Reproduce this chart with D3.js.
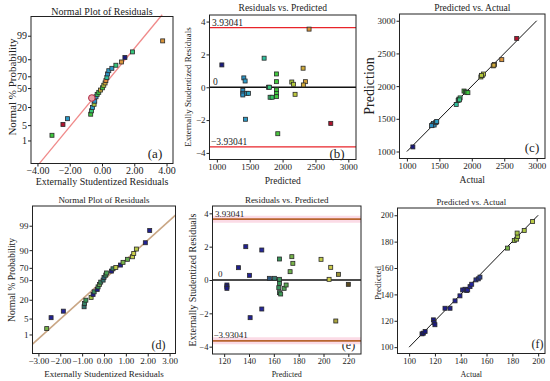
<!DOCTYPE html>
<html>
<head>
<meta charset="utf-8">
<script src="https://cdn.jsdelivr.net/npm/d3@7"></script>
<style>
body { margin: 0; background: #fff; }
svg text { font-family: "Liberation Serif", "Times New Roman", Times, serif; fill: #222; }
</style>
</head>
<body>
<script>
var width = 550, height = 381;

// ---- data ----
// (a) normal plot: [residual, normal % probability, response]
var aPoints = [
  [-3.10, 1.8, 1900], [-2.42, 5.3, 2730], [-2.14, 8.7, 1430], [-0.70, 12.3, 1900],
  [-0.65, 15.6, 1820], [-0.59, 19.4, 1450], [-0.49, 23.6, 2150], [-0.45, 28, 1400],
  [-0.37, 35, 1420], [-0.30, 39, 1850], [-0.20, 42.5, 1900], [-0.09, 46.5, 2300],
  [0.03, 50.5, 1900], [0.11, 55, 2180], [0.19, 59, 2320], [0.24, 63, 2450],
  [0.30, 68, 1720], [0.34, 73.5, 1400], [0.42, 78, 1440], [0.61, 81, 1420],
  [0.86, 84.5, 1800], [1.21, 87.7, 2400], [1.42, 91.3, 1076], [1.89, 94.6, 1800],
  [3.76, 98.2, 2403]
];
var aHighlight = [-0.63, 33];
var aLine = [[-3.9, 0.0376], [3.73, 99.944]];

// (b) residuals vs predicted: [predicted, residual]
var bPoints = [
  [1076, 1.36], [1719, 1.77], [2403, 3.54], [2312, 1.16], [1906, 0.81], [1906, 0.34],
  [1410, 0.57], [1430, 0.38], [2140, 0.32], [2165, 0.18], [2347, 0.34], [2316, 0.14],
  [1785, 0.0], [1800, 0.0], [1395, -0.2], [1395, -0.37], [1395, -0.47], [1456, -0.37],
  [1480, -0.37], [1906, -0.16], [1906, -0.37], [1906, -0.57], [1810, -0.61], [1840, -0.61],
  [2190, -0.43], [1435, -1.95], [1927, -2.83], [2733, -2.2]
];
var bLimitLine = 3.63;
var limitText = "3.93041";

// (c) predicted vs actual: [actual, predicted]
var cPoints = [
  [1092, 1070], [1390, 1400], [1400, 1415], [1410, 1430], [1420, 1405], [1440, 1440],
  [1455, 1450], [1380, 1395], [1460, 1460], [1760, 1720], [1790, 1780], [1800, 1800],
  [1820, 1820], [1810, 1790], [1880, 1925], [1900, 1910], [1920, 1905], [1940, 1900],
  [2140, 2140], [2160, 2160], [2180, 2185], [2150, 2165], [2330, 2310], [2350, 2330],
  [2340, 2320], [2462, 2405], [2692, 2730]
];

// (d) normal plot: [residual, normal % probability, response]
var dPoints = [
  [-2.62, 1.9, 175], [-2.42, 5.4, 138], [-1.86, 9.2, 150], [-0.91, 12.7, 160],
  [-0.89, 15.9, 162], [-0.83, 19.5, 165], [-0.59, 23, 185], [-0.50, 27, 130],
  [-0.45, 30.8, 163], [-0.31, 34.5, 122], [-0.27, 38.6, 165], [-0.21, 42.7, 172],
  [-0.15, 46.6, 163], [-0.04, 50, 160], [0.0, 54.5, 158], [0.08, 58.5, 164],
  [0.11, 62, 168], [0.34, 65, 130], [0.41, 68.6, 162], [0.54, 70.6, 195],
  [0.75, 74, 132], [0.87, 77.6, 175], [1.07, 81.3, 172], [1.30, 84.1, 198],
  [1.36, 87.3, 202], [1.48, 90.8, 194], [1.89, 94.5, 140], [2.09, 98.3, 137]
];
var dLine = [[-3.27, 0.307], [3.27, 99.728]];

// (e) residuals vs predicted: [predicted, residual]
var ePoints = [
  [137.4, 2.0], [150.3, 1.8], [131.5, 0.74], [140.4, 0.28], [122.2, -0.3], [122.2, -0.4],
  [122.2, -0.5], [156.4, 0.1], [160.5, 0.1], [164.5, 1.26], [164.5, 0.04], [164.5, -0.2],
  [164, -0.46], [164.5, -0.76], [165.5, -0.84], [168.3, -0.5], [169.9, -0.3], [174.5, 1.4],
  [175.3, 1.0], [173.1, 0.5], [198, 1.24], [205.8, 0.76], [212, 0.34], [204.5, 0.04],
  [220, -0.26], [209.9, -2.46], [150.3, -1.74], [140.9, -2.26]
];
var eLimitLine = 3.65;

// (f) predicted vs actual: [actual, predicted]
var fPoints = [
  [110, 110.1], [111, 110.6], [112.4, 111.9], [118.8, 120.7], [119.4, 118.7], [120, 117],
  [127.8, 129.5], [131.7, 129.5], [135.6, 135.1], [139.4, 138.9], [141.5, 143.4], [143.3, 143.9],
  [144.6, 142.9], [145.4, 143.4], [147.2, 145.9], [148.5, 147.7], [151.8, 151], [153.6, 151.8],
  [154.9, 153.1], [176.3, 175.1], [181.5, 180.9], [183.3, 181.9], [184.1, 183.9], [183.7, 186.5],
  [189.2, 188.5], [195.7, 195.3]
];

var probTicks = [1, 5, 20, 50, 70, 90, 99];
var residTicksA = [-4, -2, 0, 2, 4];
var residTicksD = [-3, -2, -1, 0, 1, 2, 3];
var residTicksY = [-4, -2, 0, 2, 4];
var bigTicks = [1000, 1500, 2000, 2500, 3000];
var eTicks = [120, 140, 160, 180, 200, 220];
var fTicks = [100, 120, 140, 160, 180, 200];

// colour by response value
var col1 = d3.scaleLinear()
  .domain([1070, 1420, 1750, 1900, 2200, 2450, 2730])
  .range(["#1a1a7e", "#2c98c8", "#2fc49a", "#3ec83e", "#c2c83c", "#e0883a", "#b0142e"]);
var col2 = d3.scaleLinear()
  .domain([110, 150, 165, 180, 205, 220])
  .range(["#16167a", "#26269e", "#3a9a58", "#96c040", "#d4d24c", "#5a4a20"]);

// inverse normal CDF (Acklam)
function probit(p) {
  var a = [-3.969683028665376e+01, 2.209460984245205e+02, -2.759285104469687e+02, 1.383577518672690e+02, -3.066479806614716e+01, 2.506628277459239e+00];
  var b = [-5.447609879822406e+01, 1.615858368580409e+02, -1.556989798598866e+02, 6.680131188771972e+01, -1.328068155288572e+01];
  var c = [-7.784894002430293e-03, -3.223964580411365e-01, -2.400758277161838e+00, -2.549732539343734e+00, 4.374664141464968e+00, 2.938163982698783e+00];
  var d = [7.784695709041462e-03, 3.224671290700398e-01, 2.445134137142996e+00, 3.754408661907416e+00];
  var pl = 0.02425, q, r;
  if (p < pl) {
    q = Math.sqrt(-2 * Math.log(p));
    return (((((c[0]*q+c[1])*q+c[2])*q+c[3])*q+c[4])*q+c[5]) / ((((d[0]*q+d[1])*q+d[2])*q+d[3])*q+1);
  }
  if (p > 1 - pl) {
    q = Math.sqrt(-2 * Math.log(1 - p));
    return -(((((c[0]*q+c[1])*q+c[2])*q+c[3])*q+c[4])*q+c[5]) / ((((d[0]*q+d[1])*q+d[2])*q+d[3])*q+1);
  }
  q = p - 0.5; r = q * q;
  return (((((a[0]*r+a[1])*r+a[2])*r+a[3])*r+a[4])*r+a[5])*q / (((((b[0]*r+b[1])*r+b[2])*r+b[3])*r+b[4])*r+1);
}

var svg = d3.select("body").append("svg")
  .attr("width", width)
  .attr("height", height)
  .attr("font-family", "'Liberation Serif', 'Times New Roman', Times, serif");

function styleAxis(sel, fs) {
  sel.select(".domain").remove();
  sel.attr("font-family", null).attr("font-size", fs);
  sel.selectAll("line").attr("stroke", "#222");
  sel.selectAll("text").attr("fill", "#222");
}

// one panel: frame + axes + titles
function panel(o) {
  var g = svg.append("g");
  var x = d3.scaleLinear().domain(o.xDom).range([o.x0, o.x1]);
  var y = d3.scaleLinear().domain(o.yDom).range([o.y1, o.y0]);

  g.append("g")
    .attr("transform", "translate(0," + o.y1 + ")")
    .call(d3.axisBottom(x).tickValues(o.xTicks).tickFormat(o.xFmt).tickSize(3).tickSizeOuter(0).tickPadding(o.xPad))
    .call(styleAxis, o.fs);
  g.append("g")
    .attr("transform", "translate(" + o.x0 + ",0)")
    .call(d3.axisLeft(y).tickValues(o.yTicks).tickFormat(o.yFmt).tickSize(3).tickSizeOuter(0).tickPadding(1))
    .call(styleAxis, o.fs);

  g.append("text")
    .attr("x", (o.x0 + o.x1) / 2).attr("y", o.titleY)
    .attr("text-anchor", "middle").attr("font-size", o.titleFs)
    .text(o.title);
  g.append("text")
    .attr("x", (o.x0 + o.x1) / 2).attr("y", o.xLabY)
    .attr("text-anchor", "middle").attr("font-size", o.xLabFs)
    .text(o.xLab);
  g.append("text")
    .attr("transform", "translate(" + o.yLabX + "," + o.yLabY + ") rotate(-90)")
    .attr("text-anchor", "middle").attr("font-size", o.yLabFs)
    .text(o.yLab);
  g.append("text")
    .attr("x", o.letX).attr("y", o.letY)
    .attr("text-anchor", "middle").attr("font-size", o.letFs)
    .text(o.letter);

  var plot = g.append("g");
  g.append("rect")
    .attr("x", o.x0).attr("y", o.y0)
    .attr("width", o.x1 - o.x0).attr("height", o.y1 - o.y0)
    .attr("fill", "none").attr("stroke", "#222").attr("stroke-width", 1);
  return {g: plot, x: x, y: y};
}

function squares(p, data, fx, fy, fc) {
  p.g.selectAll("rect.pt").data(data).enter().append("rect")
    .attr("class", "pt")
    .attr("x", function(d) { return p.x(fx(d)) - 2; })
    .attr("y", function(d) { return p.y(fy(d)) - 2; })
    .attr("width", 4).attr("height", 4)
    .attr("fill", fc)
    .attr("stroke", "#2a2a2a").attr("stroke-width", 0.8);
}

var fmt2 = d3.format(".2f");
var fmt0 = d3.format("d");
var probFmt = function(z) {
  for (var i = 0; i < probTicks.length; i++) if (Math.abs(probit(probTicks[i] / 100) - z) < 1e-6) return probTicks[i];
  return "";
};

// ---- (a) ----
var pa = panel({
  x0: 31, x1: 173, y0: 16.5, y1: 163.5,
  xDom: [-4.4, 4.4], yDom: [-3.35, 3.18],
  xTicks: residTicksA, xFmt: fmt2, xPad: 0,
  yTicks: probTicks.map(function(p) { return probit(p / 100); }), yFmt: probFmt,
  fs: 10,
  title: "Normal Plot of Residuals", titleY: 14.5, titleFs: 10,
  xLab: "Externally Studentized Residuals", xLabY: 184.5, xLabFs: 10,
  yLab: "Normal % Probability", yLabX: 16, yLabY: 87, yLabFs: 11,
  letter: "(a)", letX: 155, letY: 158, letFs: 13
});
pa.g.append("line")
  .attr("x1", pa.x(aLine[0][0])).attr("y1", pa.y(probit(aLine[0][1] / 100)))
  .attr("x2", pa.x(aLine[1][0])).attr("y2", pa.y(probit(aLine[1][1] / 100)))
  .attr("stroke", "#f08a8a").attr("stroke-width", 1.3);
squares(pa, aPoints, function(d) { return d[0]; }, function(d) { return probit(d[1] / 100); }, function(d) { return col1(d[2]); });
pa.g.append("circle")
  .attr("cx", pa.x(aHighlight[0])).attr("cy", pa.y(probit(aHighlight[1] / 100)))
  .attr("r", 3.3).attr("fill", "#e8a0a8").attr("stroke", "#b02a44").attr("stroke-width", 1);

// ---- (b) ----
var pb = panel({
  x0: 209.5, x1: 356, y0: 15, y1: 159.5,
  xDom: [888, 3117], yDom: [-4.4, 4.4],
  xTicks: bigTicks, xFmt: fmt0, xPad: 1,
  yTicks: residTicksY, yFmt: fmt0,
  fs: 9,
  title: "Residuals vs. Predicted", titleY: 10.5, titleFs: 9.5,
  xLab: "Predicted", xLabY: 184, xLabFs: 9.5,
  yLab: "Externally Studentized Residuals", yLabX: 190.5, yLabY: 87, yLabFs: 9,
  letter: "(b)", letX: 337, letY: 158, letFs: 13
});
[bLimitLine, -bLimitLine].forEach(function(v) {
  pb.g.append("line")
    .attr("x1", pb.x(888)).attr("x2", pb.x(3117))
    .attr("y1", pb.y(v)).attr("y2", pb.y(v))
    .attr("stroke", "#e8242a").attr("stroke-width", 1.4);
});
pb.g.append("line")
  .attr("x1", pb.x(888)).attr("x2", pb.x(3117))
  .attr("y1", pb.y(0)).attr("y2", pb.y(0))
  .attr("stroke", "#111").attr("stroke-width", 1.3);
pb.g.append("text").attr("x", 212).attr("y", pb.y(bLimitLine) - 2).attr("font-size", 9.5).text(limitText);
pb.g.append("text").attr("x", 213).attr("y", pb.y(0) - 2).attr("font-size", 9.5).text("0");
pb.g.append("text").attr("x", 211).attr("y", pb.y(-bLimitLine) - 2).attr("font-size", 9.5).text("\u2212" + limitText);
squares(pb, bPoints, function(d) { return d[0]; }, function(d) { return d[1]; }, function(d) { return col1(d[0]); });

// ---- (c) ----
var pc = panel({
  x0: 399.5, x1: 545, y0: 14, y1: 158.5,
  xDom: [886, 3128], yDom: [893, 3103],
  xTicks: bigTicks, xFmt: fmt0, xPad: 1,
  yTicks: bigTicks, yFmt: fmt0,
  fs: 9,
  title: "Predicted vs. Actual", titleY: 10.8, titleFs: 9.5,
  xLab: "Actual", xLabY: 182.5, xLabFs: 9.5,
  yLab: "Prediction", yLabX: 374, yLabY: 86, yLabFs: 14,
  letter: "(c)", letX: 532, letY: 152, letFs: 13
});
pc.g.append("line")
  .attr("x1", pc.x(1000)).attr("y1", pc.y(1000))
  .attr("x2", pc.x(3000)).attr("y2", pc.y(3000))
  .attr("stroke", "#111").attr("stroke-width", 1);
squares(pc, cPoints, function(d) { return d[0]; }, function(d) { return d[1]; }, function(d) { return col1(d[1]); });

// ---- (d) ----
var pd = panel({
  x0: 32.5, x1: 175.5, y0: 206, y1: 353.5,
  xDom: [-3.27, 3.27], yDom: [-3.14, 3.17],
  xTicks: residTicksD, xFmt: fmt2, xPad: 1,
  yTicks: probTicks.map(function(p) { return probit(p / 100); }), yFmt: probFmt,
  fs: 9,
  title: "Normal Plot of Residuals", titleY: 203, titleFs: 9,
  xLab: "Externally Studentized Residuals", xLabY: 377, xLabFs: 9,
  yLab: "Normal % Probability", yLabX: 15, yLabY: 280, yLabFs: 9.5,
  letter: "(d)", letX: 158.5, letY: 349, letFs: 12
});
pd.g.append("line")
  .attr("x1", pd.x(dLine[0][0])).attr("y1", pd.y(probit(dLine[0][1] / 100)))
  .attr("x2", pd.x(dLine[1][0])).attr("y2", pd.y(probit(dLine[1][1] / 100)))
  .attr("stroke", "#c9a684").attr("stroke-width", 1.6);
squares(pd, dPoints, function(d) { return d[0]; }, function(d) { return probit(d[1] / 100); }, function(d) { return col2(d[2]); });

// ---- (e) ----
var pe = panel({
  x0: 212.5, x1: 361, y0: 206, y1: 354,
  xDom: [110.6, 230.2], yDom: [-4.44, 4.44],
  xTicks: eTicks, xFmt: fmt0, xPad: 1,
  yTicks: residTicksY, yFmt: fmt0,
  fs: 8.5,
  title: "Residuals vs. Predicted", titleY: 203, titleFs: 9,
  xLab: "Predicted", xLabY: 377, xLabFs: 8,
  yLab: "Externally Studentized Residuals", yLabX: 196, yLabY: 280, yLabFs: 10,
  letter: "(e)", letX: 348.5, letY: 349, letFs: 12
});
[eLimitLine, -eLimitLine].forEach(function(v) {
  pe.g.append("line")
    .attr("x1", pe.x(110.6)).attr("x2", pe.x(230.2))
    .attr("y1", pe.y(v)).attr("y2", pe.y(v))
    .attr("stroke", "#fbdbe6").attr("stroke-width", 7);
  pe.g.append("line")
    .attr("x1", pe.x(110.6)).attr("x2", pe.x(230.2))
    .attr("y1", pe.y(v)).attr("y2", pe.y(v))
    .attr("stroke", "#b8652e").attr("stroke-width", 1.8);
});
pe.g.append("line")
  .attr("x1", pe.x(110.6)).attr("x2", pe.x(230.2))
  .attr("y1", pe.y(0)).attr("y2", pe.y(0))
  .attr("stroke", "#111").attr("stroke-width", 1.3);
pe.g.append("text").attr("x", 215).attr("y", pe.y(eLimitLine) - 2.5).attr("font-size", 9).text(limitText);
pe.g.append("text").attr("x", 218).attr("y", pe.y(0) - 3).attr("font-size", 9).text("0");
pe.g.append("text").attr("x", 213.5).attr("y", pe.y(-eLimitLine) - 2.5).attr("font-size", 9).text("\u2212" + limitText);
squares(pe, ePoints, function(d) { return d[0]; }, function(d) { return d[1]; }, function(d) { return col2(d[0]); });

// ---- (f) ----
var pf = panel({
  x0: 397.5, x1: 545, y0: 208, y1: 353.5,
  xDom: [91, 205.3], yDom: [95.2, 205.5],
  xTicks: fTicks, xFmt: fmt0, xPad: 1,
  yTicks: fTicks, yFmt: fmt0,
  fs: 8.5,
  title: "Predicted vs. Actual", titleY: 205, titleFs: 8.7,
  xLab: "Actual", xLabY: 377, xLabFs: 8,
  yLab: "Predicted", yLabX: 381, yLabY: 283, yLabFs: 9,
  letter: "(f)", letX: 537.5, letY: 348, letFs: 12
});
pf.g.append("line")
  .attr("x1", pf.x(100)).attr("y1", pf.y(100))
  .attr("x2", pf.x(200)).attr("y2", pf.y(200))
  .attr("stroke", "#111").attr("stroke-width", 1);
squares(pf, fPoints, function(d) { return d[0]; }, function(d) { return d[1]; }, function(d) { return col2(d[1]); });
</script>
</body>
</html>
